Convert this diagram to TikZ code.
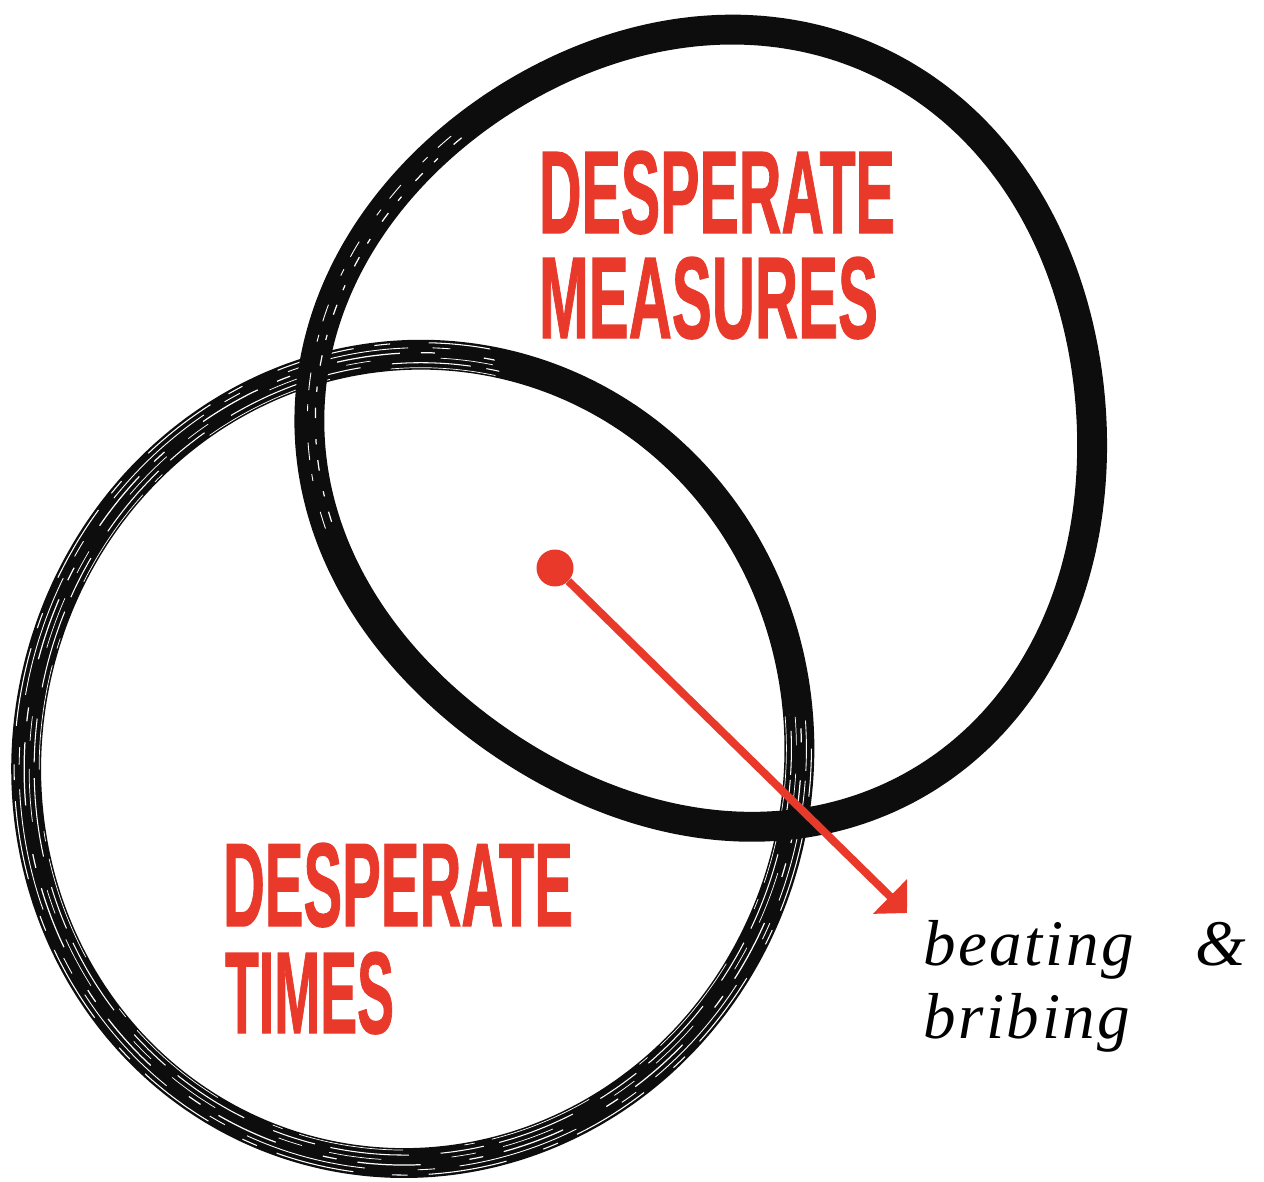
\documentclass[tikz,border=0pt]{standalone}
\usepackage{graphicx}
\usepackage{fontspec}
\setmainfont{Liberation Serif}
\newfontfamily\labelfont[BoldFeatures={FakeBold=1.2}]{Liberation Sans}
\newfontfamily\notefont[LetterSpace=4]{Liberation Serif}
\usetikzlibrary{arrows.meta}
\definecolor{vred}{HTML}{E8392B}
\definecolor{ink}{HTML}{0D0D0D}
\begin{document}
\begin{tikzpicture}[x=0.02cm,y=-0.02cm,
  declare function={
    rT(\t)=395.3+2.75*cos(\t)-1.07*sin(\t)-8.78*cos(2*\t)-4.6*sin(2*\t);
    rM(\t)=393.5+13.8*cos(\t)+0.8*sin(\t)-2.3*cos(2*\t)+5.3*sin(2*\t)-11.2*cos(3*\t)+0.8*sin(3*\t);},
  ring/.style={domain=0:357, samples=120, smooth cycle, variable=\t},
  brush/.style={draw=ink, line width=17pt, line join=round},
  streak/.style={draw=white, line width=0.5pt},
  biglabel/.style={anchor=north west, inner sep=0pt, outer sep=0pt, text=vred, font=\labelfont\bfseries},
  note/.style={anchor=base west, inner sep=0pt, text=black, font=\notefont\itshape\fontsize{37}{41}\selectfont},
  pointer/.style={draw=vred, line width=4.5pt, -{Triangle[length=13.5pt,width=27pt]}}]

\fill[white] (0,0) rectangle (1264,1182);
\useasboundingbox (0,0) rectangle (1264,1182);

% ---- lower-left brush circle (Desperate Times)
\draw[brush] plot[ring] ({410+rT(\t)*cos(\t)},{760+rT(\t)*sin(\t)});
\begin{scope}
  \clip (0,300) -- (470,300) -- (560,520) -- (720,690) -- (860,740) -- (860,1182) -- (0,1182) -- cycle;
  \foreach \o/\lw/\dpat in {-13/0.4pt/{on 60pt off 10pt on 6pt off 35pt},
                            -8/0.6pt/{on 25pt off 18pt on 45pt off 9pt},
                            -3/0.4pt/{on 14pt off 40pt on 30pt off 16pt},
                            2/0.7pt/{on 36pt off 12pt on 8pt off 28pt},
                            7/0.5pt/{on 70pt off 14pt on 10pt off 30pt},
                            12/0.6pt/{on 9pt off 22pt on 45pt off 12pt}}{
    \draw[streak, line width=\lw, dash pattern/.expanded=\dpat]
      plot[ring] ({410+(rT(\t)+\o)*cos(\t)},{760+(rT(\t)+\o)*sin(\t)});
  }
\end{scope}

% ---- upper-right brush circle (Desperate Measures)
\draw[brush] plot[ring] ({698+rM(\t)*cos(\t)},{427+rM(\t)*sin(\t)});
\begin{scope}
  \clip (280,110) -- (480,90) -- (420,300) -- (370,540) -- (280,540) -- cycle;
  \foreach \o/\lw/\dpat in {-6/0.7pt/{on 6pt off 9pt on 3pt off 12pt},
                            2/0.5pt/{on 10pt off 18pt on 4pt off 8pt}}{
    \draw[streak, line width=\lw, dash pattern/.expanded=\dpat]
      plot[ring] ({698+(rM(\t)+\o)*cos(\t)},{427+(rM(\t)+\o)*sin(\t)});
  }
\end{scope}

% ---- labels
\node[biglabel] (dm1) at (539,151) {\resizebox{7.12cm}{1.64cm}{DESPERATE}};
\node[biglabel] (dm2) at (539,257) {\resizebox{6.78cm}{1.62cm}{MEASURES}};
\node[biglabel] (dt1) at (223,843) {\resizebox{7.0cm}{1.66cm}{DESPERATE}};
\node[biglabel] (dt2) at (225,952) {\resizebox{3.38cm}{1.62cm}{TIMES}};

\node[note] (bt1) at (923,965) {beating\ \hspace{0.65em}\&};
\node[note] (bt2) at (923,1038) {bribing};

% ---- pointer
\node[circle, fill=vred, inner sep=0pt, minimum size=0.74cm] (dot) at (555,568) {};
\coordinate (tip) at (907,913);
\draw[pointer] (dot) -- (tip);
\end{tikzpicture}
\end{document}
